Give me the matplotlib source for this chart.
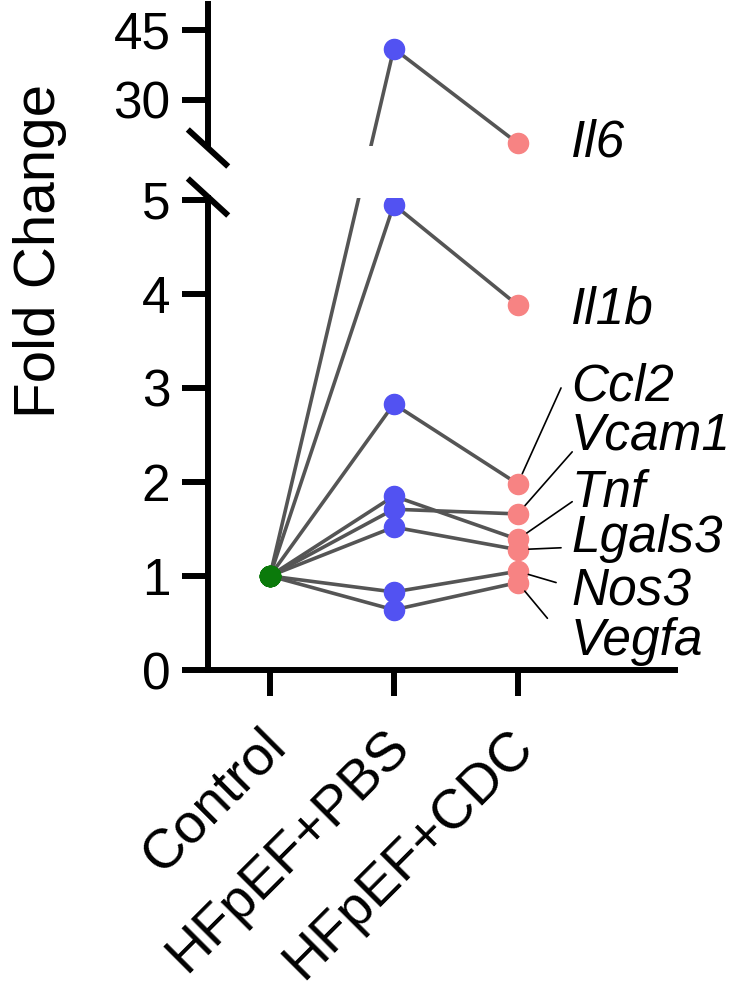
import numpy as np
import matplotlib.pyplot as plt
import matplotlib.transforms as mtransforms
from matplotlib.lines import Line2D

plt.rcParams['font.family'] = ['Liberation Sans', 'DejaVu Sans']

groups = ['Control', 'HFpEF+PBS', 'HFpEF+CDC']
genes = ['Il6', 'Il1b', 'Ccl2', 'Vcam1', 'Tnf', 'Lgals3', 'Nos3', 'Vegfa']
control = [1.0, 1.0, 1.0, 1.0, 1.0, 1.0, 1.0, 1.0]
pbs = [41.0, 4.95, 2.83, 1.71, 1.85, 1.52, 0.83, 0.64]
cdc = [20.6, 3.88, 1.98, 1.66, 1.39, 1.28, 1.05, 0.93]

# label placement (data units): baseline y of each gene name, leader-line end
label_y = [17.0, 3.69, 2.87, 2.34, 1.73, 1.26, 0.69, 0.16]
leader_end = {'Ccl2': (2.35, 3.0), 'Vcam1': (2.44, 2.32), 'Tnf': (2.44, 1.79),
              'Lgals3': (2.35, 1.30), 'Nos3': (2.31, 0.93), 'Vegfa': (2.24, 0.55)}

low_lim = (0, 5.02)
high_lim = (20, 50.6)

c_ctrl = '#0b7a0b'
c_pbs = '#5252f2'
c_cdc = '#f78383'
c_line = '#555555'
fs = 37

W, H = 733, 994
low_box = [208 / W, 1 - 670 / H, (675 - 208) / W, (670 - 198) / H]
high_box = [208 / W, 1 - 146 / H, (675 - 208) / W, (146 - 4) / H]

# piecewise scale: both panels share one screen scale so a line crossing the
# break stays straight (as in Prism)
px_low = (low_box[3] * H) / (low_lim[1] - low_lim[0])
u_high0 = low_lim[1] + (198 - 146) / px_low
u_high1 = u_high0 + (high_box[3] * H) / px_low
k_high = (u_high1 - u_high0) / (high_lim[1] - high_lim[0])
k_gap = (u_high0 - low_lim[1]) / (high_lim[0] - low_lim[1])


def fwd(v):
    v = np.asarray(v, dtype=float)
    return np.where(v <= low_lim[1], v,
                    np.where(v < high_lim[0], low_lim[1] + (v - low_lim[1]) * k_gap,
                             u_high0 + (v - high_lim[0]) * k_high))


def inv(u):
    u = np.asarray(u, dtype=float)
    return np.where(u <= low_lim[1], u,
                    np.where(u < u_high0, low_lim[1] + (u - low_lim[1]) / k_gap,
                             high_lim[0] + (u - u_high0) / k_high))


fig = plt.figure(figsize=(W / 100, H / 100), dpi=100)
ax = fig.add_axes(low_box)
axt = fig.add_axes(high_box)

x = np.arange(len(groups))
for a in (ax, axt):
    a.set_yscale('function', functions=(fwd, inv))
    for i in range(len(genes)):
        a.plot(x, [control[i], pbs[i], cdc[i]], color=c_line, lw=2.6, zorder=2)
    a.set_xlim(-0.5, 3.27)
    for s in ['top', 'right']:
        a.spines[s].set_visible(False)
    a.spines['left'].set_linewidth(4.3)
    a.spines['bottom'].set_linewidth(4.3)
    a.tick_params(width=4.3, length=19, labelsize=fs, pad=8)
    a.minorticks_off()

# lower axis points
ax.plot(0 * np.ones(len(genes)), control, 'o', ms=14.5, color=c_ctrl, zorder=3)
ax.plot(np.ones(len(genes)), pbs, 'o', ms=14.5, color=c_pbs, zorder=3)
ax.plot(2 * np.ones(len(genes)), cdc, 'o', ms=14.5, color=c_cdc, zorder=3)
ax.set_ylim(*low_lim)
ax.set_yticks([0, 1, 2, 3, 4, 5])
ax.set_yticklabels(['0', '1', '2', '3', '4', '5'])
ax.set_xticks(x)
ax.set_xticklabels(groups, rotation=45, ha='right', rotation_mode='anchor', va='center',
                   fontsize=40)
ax.tick_params(axis='x', pad=30)
shift = mtransforms.ScaledTranslation(8 / 100, 0, fig.dpi_scale_trans)
for lab in ax.get_xticklabels():
    lab.set_transform(lab.get_transform() + shift)

# upper axis points (only those above the break)
pbs_hi = [v for v in pbs if v > high_lim[0]]
cdc_hi = [v for v in cdc if v > high_lim[0]]
axt.plot(np.ones(len(pbs_hi)), pbs_hi, 'o', ms=14.5, color=c_pbs, zorder=3, clip_on=False)
axt.plot(2 * np.ones(len(cdc_hi)), cdc_hi, 'o', ms=14.5, color=c_cdc, zorder=3, clip_on=False)
axt.set_ylim(*high_lim)
axt.set_yticks([30, 45])
axt.set_yticklabels(['30', '45'])
axt.spines['bottom'].set_visible(False)
axt.set_xticks([])

# gene labels
for i, g in enumerate(genes):
    target = axt if g == 'Il6' else ax
    target.text(2.43, label_y[i], g, fontsize=fs, style='italic', va='baseline', ha='left')
    if g in leader_end:
        ax.annotate('', xy=(2, cdc[i]), xytext=leader_end[g],
                    arrowprops=dict(arrowstyle='-', lw=1.2, color='black', shrinkA=0, shrinkB=8))

# axis break marks
dx, dy = 18 / W, 16.5 / H
x0 = 208 / W
for yc in (1 - 148 / H, 1 - 197 / H):
    fig.add_artist(Line2D([x0 - dx, x0 + dx], [yc + dy, yc - dy], color='black', lw=4.3,
                          transform=fig.transFigure))

fig.text(40 / W, 1 - 251 / H, 'Fold Change', rotation=90, fontsize=42, ha='center', va='center')

fig.savefig('out.png', dpi=100)
